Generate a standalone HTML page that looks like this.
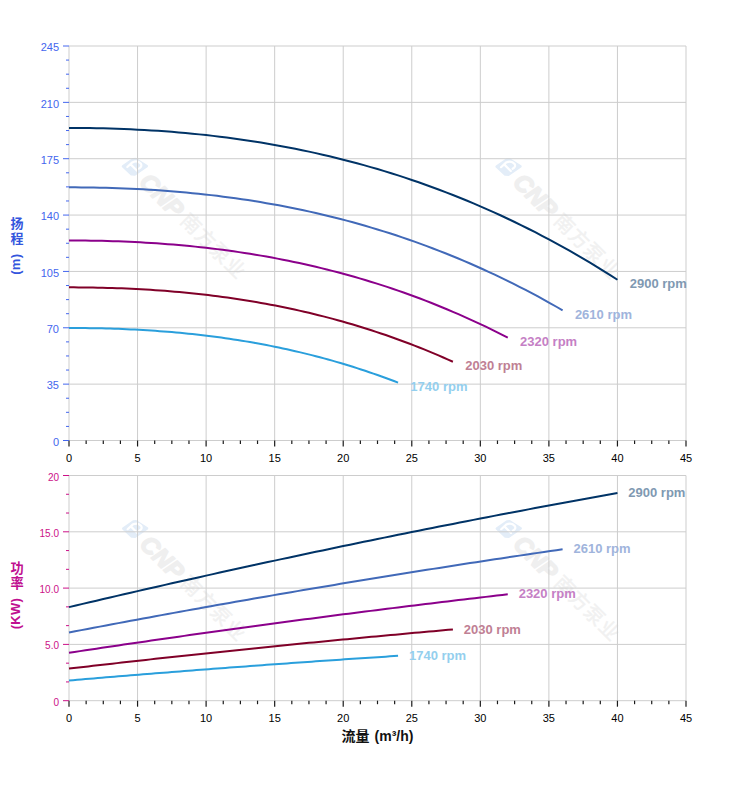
<!DOCTYPE html>
<html><head><meta charset="utf-8"><title>chart</title>
<style>html,body{margin:0;padding:0;background:#fff;}body{width:752px;height:797px;overflow:hidden;font-family:"Liberation Sans",sans-serif;}svg{display:block;}text{font-family:"Liberation Sans","Noto Sans CJK SC",sans-serif;}</style>
</head><body>
<svg width="752" height="797" viewBox="0 0 752 797">
<rect width="752" height="797" fill="#ffffff"/>
<g transform="translate(134.7 166.8)">
<path d="M-11.7 -0.4 L-1.6 -7.5 L1 -7.7 L12 -0.6 L0 7.6 L-3.2 7.5 Z" fill="#e3edf8" stroke="#e3edf8" stroke-width="2.6" stroke-linejoin="round"/>
<path d="M-7.4 0.2 L-2.4 -4.4 Q3 -7 6.2 -3 Q7.8 -0.2 4.2 1.8 M-4.2 -2.6 L2.4 4" fill="none" stroke="#ffffff" stroke-width="2.2" stroke-linecap="round" stroke-linejoin="round"/>
<g transform="rotate(45)">
<text x="14" y="9.2" font-size="24" font-weight="bold" font-style="italic" fill="#efefef" stroke="#efefef" stroke-width="1.5" stroke-linejoin="round">CNP</text>
<text x="70.3" y="7.4" font-size="19.6" letter-spacing="1.2" fill="#f1f1f1" stroke="#f1f1f1" stroke-width="0.43" font-family="&quot;Liberation Sans&quot;,&quot;Noto Sans CJK SC&quot;,sans-serif">南方泵业</text>
</g>
</g>
<g transform="translate(508.4 167)">
<path d="M-11.7 -0.4 L-1.6 -7.5 L1 -7.7 L12 -0.6 L0 7.6 L-3.2 7.5 Z" fill="#e3edf8" stroke="#e3edf8" stroke-width="2.6" stroke-linejoin="round"/>
<path d="M-7.4 0.2 L-2.4 -4.4 Q3 -7 6.2 -3 Q7.8 -0.2 4.2 1.8 M-4.2 -2.6 L2.4 4" fill="none" stroke="#ffffff" stroke-width="2.2" stroke-linecap="round" stroke-linejoin="round"/>
<g transform="rotate(45)">
<text x="14" y="9.2" font-size="24" font-weight="bold" font-style="italic" fill="#efefef" stroke="#efefef" stroke-width="1.5" stroke-linejoin="round">CNP</text>
<text x="70.3" y="7.4" font-size="19.6" letter-spacing="1.2" fill="#f1f1f1" stroke="#f1f1f1" stroke-width="0.43" font-family="&quot;Liberation Sans&quot;,&quot;Noto Sans CJK SC&quot;,sans-serif">南方泵业</text>
</g>
</g>
<g transform="translate(135 529)">
<path d="M-11.7 -0.4 L-1.6 -7.5 L1 -7.7 L12 -0.6 L0 7.6 L-3.2 7.5 Z" fill="#e3edf8" stroke="#e3edf8" stroke-width="2.6" stroke-linejoin="round"/>
<path d="M-7.4 0.2 L-2.4 -4.4 Q3 -7 6.2 -3 Q7.8 -0.2 4.2 1.8 M-4.2 -2.6 L2.4 4" fill="none" stroke="#ffffff" stroke-width="2.2" stroke-linecap="round" stroke-linejoin="round"/>
<g transform="rotate(45)">
<text x="14" y="9.2" font-size="24" font-weight="bold" font-style="italic" fill="#efefef" stroke="#efefef" stroke-width="1.5" stroke-linejoin="round">CNP</text>
<text x="70.3" y="7.4" font-size="19.6" letter-spacing="1.2" fill="#f1f1f1" stroke="#f1f1f1" stroke-width="0.43" font-family="&quot;Liberation Sans&quot;,&quot;Noto Sans CJK SC&quot;,sans-serif">南方泵业</text>
</g>
</g>
<g transform="translate(508.6 529)">
<path d="M-11.7 -0.4 L-1.6 -7.5 L1 -7.7 L12 -0.6 L0 7.6 L-3.2 7.5 Z" fill="#e3edf8" stroke="#e3edf8" stroke-width="2.6" stroke-linejoin="round"/>
<path d="M-7.4 0.2 L-2.4 -4.4 Q3 -7 6.2 -3 Q7.8 -0.2 4.2 1.8 M-4.2 -2.6 L2.4 4" fill="none" stroke="#ffffff" stroke-width="2.2" stroke-linecap="round" stroke-linejoin="round"/>
<g transform="rotate(45)">
<text x="14" y="9.2" font-size="24" font-weight="bold" font-style="italic" fill="#efefef" stroke="#efefef" stroke-width="1.5" stroke-linejoin="round">CNP</text>
<text x="70.3" y="7.4" font-size="19.6" letter-spacing="1.2" fill="#f1f1f1" stroke="#f1f1f1" stroke-width="0.43" font-family="&quot;Liberation Sans&quot;,&quot;Noto Sans CJK SC&quot;,sans-serif">南方泵业</text>
</g>
</g>
<g stroke="#cdcdcd" stroke-width="1" fill="none">
<line x1="69" y1="46" x2="69" y2="440.5"/>
<line x1="137.56" y1="46" x2="137.56" y2="440.5"/>
<line x1="206.11" y1="46" x2="206.11" y2="440.5"/>
<line x1="274.67" y1="46" x2="274.67" y2="440.5"/>
<line x1="343.22" y1="46" x2="343.22" y2="440.5"/>
<line x1="411.78" y1="46" x2="411.78" y2="440.5"/>
<line x1="480.33" y1="46" x2="480.33" y2="440.5"/>
<line x1="548.89" y1="46" x2="548.89" y2="440.5"/>
<line x1="617.44" y1="46" x2="617.44" y2="440.5"/>
<line x1="686" y1="46" x2="686" y2="440.5"/>
<line x1="69" y1="46" x2="686" y2="46"/>
<line x1="69" y1="102.36" x2="686" y2="102.36"/>
<line x1="69" y1="158.71" x2="686" y2="158.71"/>
<line x1="69" y1="215.07" x2="686" y2="215.07"/>
<line x1="69" y1="271.43" x2="686" y2="271.43"/>
<line x1="69" y1="327.79" x2="686" y2="327.79"/>
<line x1="69" y1="384.14" x2="686" y2="384.14"/>
<line x1="69" y1="440.5" x2="686" y2="440.5"/>
</g>
<g stroke="#cdcdcd" stroke-width="1" fill="none">
<line x1="69" y1="475.5" x2="69" y2="700.7"/>
<line x1="137.56" y1="475.5" x2="137.56" y2="700.7"/>
<line x1="206.11" y1="475.5" x2="206.11" y2="700.7"/>
<line x1="274.67" y1="475.5" x2="274.67" y2="700.7"/>
<line x1="343.22" y1="475.5" x2="343.22" y2="700.7"/>
<line x1="411.78" y1="475.5" x2="411.78" y2="700.7"/>
<line x1="480.33" y1="475.5" x2="480.33" y2="700.7"/>
<line x1="548.89" y1="475.5" x2="548.89" y2="700.7"/>
<line x1="617.44" y1="475.5" x2="617.44" y2="700.7"/>
<line x1="686" y1="475.5" x2="686" y2="700.7"/>
<line x1="69" y1="475.5" x2="686" y2="475.5"/>
<line x1="69" y1="531.8" x2="686" y2="531.8"/>
<line x1="69" y1="588.1" x2="686" y2="588.1"/>
<line x1="69" y1="644.4" x2="686" y2="644.4"/>
<line x1="69" y1="700.7" x2="686" y2="700.7"/>
</g>
<g stroke="#1a1a1a" stroke-width="1.2">
<line x1="69" y1="440.5" x2="69" y2="446.5"/>
<line x1="86.14" y1="440.5" x2="86.14" y2="444"/>
<line x1="103.28" y1="440.5" x2="103.28" y2="444"/>
<line x1="120.42" y1="440.5" x2="120.42" y2="444"/>
<line x1="137.56" y1="440.5" x2="137.56" y2="446.5"/>
<line x1="154.69" y1="440.5" x2="154.69" y2="444"/>
<line x1="171.83" y1="440.5" x2="171.83" y2="444"/>
<line x1="188.97" y1="440.5" x2="188.97" y2="444"/>
<line x1="206.11" y1="440.5" x2="206.11" y2="446.5"/>
<line x1="223.25" y1="440.5" x2="223.25" y2="444"/>
<line x1="240.39" y1="440.5" x2="240.39" y2="444"/>
<line x1="257.53" y1="440.5" x2="257.53" y2="444"/>
<line x1="274.67" y1="440.5" x2="274.67" y2="446.5"/>
<line x1="291.81" y1="440.5" x2="291.81" y2="444"/>
<line x1="308.94" y1="440.5" x2="308.94" y2="444"/>
<line x1="326.08" y1="440.5" x2="326.08" y2="444"/>
<line x1="343.22" y1="440.5" x2="343.22" y2="446.5"/>
<line x1="360.36" y1="440.5" x2="360.36" y2="444"/>
<line x1="377.5" y1="440.5" x2="377.5" y2="444"/>
<line x1="394.64" y1="440.5" x2="394.64" y2="444"/>
<line x1="411.78" y1="440.5" x2="411.78" y2="446.5"/>
<line x1="428.92" y1="440.5" x2="428.92" y2="444"/>
<line x1="446.06" y1="440.5" x2="446.06" y2="444"/>
<line x1="463.19" y1="440.5" x2="463.19" y2="444"/>
<line x1="480.33" y1="440.5" x2="480.33" y2="446.5"/>
<line x1="497.47" y1="440.5" x2="497.47" y2="444"/>
<line x1="514.61" y1="440.5" x2="514.61" y2="444"/>
<line x1="531.75" y1="440.5" x2="531.75" y2="444"/>
<line x1="548.89" y1="440.5" x2="548.89" y2="446.5"/>
<line x1="566.03" y1="440.5" x2="566.03" y2="444"/>
<line x1="583.17" y1="440.5" x2="583.17" y2="444"/>
<line x1="600.31" y1="440.5" x2="600.31" y2="444"/>
<line x1="617.44" y1="440.5" x2="617.44" y2="446.5"/>
<line x1="634.58" y1="440.5" x2="634.58" y2="444"/>
<line x1="651.72" y1="440.5" x2="651.72" y2="444"/>
<line x1="668.86" y1="440.5" x2="668.86" y2="444"/>
<line x1="686" y1="440.5" x2="686" y2="446.5"/>
</g>
<g font-size="11" fill="#000" text-anchor="middle">
<text x="69" y="462.1">0</text>
<text x="137.56" y="462.1">5</text>
<text x="206.11" y="462.1">10</text>
<text x="274.67" y="462.1">15</text>
<text x="343.22" y="462.1">20</text>
<text x="411.78" y="462.1">25</text>
<text x="480.33" y="462.1">30</text>
<text x="548.89" y="462.1">35</text>
<text x="617.44" y="462.1">40</text>
<text x="686" y="462.1">45</text>
</g>
<g stroke="#1a1a1a" stroke-width="1.2">
<line x1="69" y1="700.7" x2="69" y2="706.7"/>
<line x1="86.14" y1="700.7" x2="86.14" y2="704.2"/>
<line x1="103.28" y1="700.7" x2="103.28" y2="704.2"/>
<line x1="120.42" y1="700.7" x2="120.42" y2="704.2"/>
<line x1="137.56" y1="700.7" x2="137.56" y2="706.7"/>
<line x1="154.69" y1="700.7" x2="154.69" y2="704.2"/>
<line x1="171.83" y1="700.7" x2="171.83" y2="704.2"/>
<line x1="188.97" y1="700.7" x2="188.97" y2="704.2"/>
<line x1="206.11" y1="700.7" x2="206.11" y2="706.7"/>
<line x1="223.25" y1="700.7" x2="223.25" y2="704.2"/>
<line x1="240.39" y1="700.7" x2="240.39" y2="704.2"/>
<line x1="257.53" y1="700.7" x2="257.53" y2="704.2"/>
<line x1="274.67" y1="700.7" x2="274.67" y2="706.7"/>
<line x1="291.81" y1="700.7" x2="291.81" y2="704.2"/>
<line x1="308.94" y1="700.7" x2="308.94" y2="704.2"/>
<line x1="326.08" y1="700.7" x2="326.08" y2="704.2"/>
<line x1="343.22" y1="700.7" x2="343.22" y2="706.7"/>
<line x1="360.36" y1="700.7" x2="360.36" y2="704.2"/>
<line x1="377.5" y1="700.7" x2="377.5" y2="704.2"/>
<line x1="394.64" y1="700.7" x2="394.64" y2="704.2"/>
<line x1="411.78" y1="700.7" x2="411.78" y2="706.7"/>
<line x1="428.92" y1="700.7" x2="428.92" y2="704.2"/>
<line x1="446.06" y1="700.7" x2="446.06" y2="704.2"/>
<line x1="463.19" y1="700.7" x2="463.19" y2="704.2"/>
<line x1="480.33" y1="700.7" x2="480.33" y2="706.7"/>
<line x1="497.47" y1="700.7" x2="497.47" y2="704.2"/>
<line x1="514.61" y1="700.7" x2="514.61" y2="704.2"/>
<line x1="531.75" y1="700.7" x2="531.75" y2="704.2"/>
<line x1="548.89" y1="700.7" x2="548.89" y2="706.7"/>
<line x1="566.03" y1="700.7" x2="566.03" y2="704.2"/>
<line x1="583.17" y1="700.7" x2="583.17" y2="704.2"/>
<line x1="600.31" y1="700.7" x2="600.31" y2="704.2"/>
<line x1="617.44" y1="700.7" x2="617.44" y2="706.7"/>
<line x1="634.58" y1="700.7" x2="634.58" y2="704.2"/>
<line x1="651.72" y1="700.7" x2="651.72" y2="704.2"/>
<line x1="668.86" y1="700.7" x2="668.86" y2="704.2"/>
<line x1="686" y1="700.7" x2="686" y2="706.7"/>
</g>
<g font-size="11" fill="#000" text-anchor="middle">
<text x="69" y="722.3">0</text>
<text x="137.56" y="722.3">5</text>
<text x="206.11" y="722.3">10</text>
<text x="274.67" y="722.3">15</text>
<text x="343.22" y="722.3">20</text>
<text x="411.78" y="722.3">25</text>
<text x="480.33" y="722.3">30</text>
<text x="548.89" y="722.3">35</text>
<text x="617.44" y="722.3">40</text>
<text x="686" y="722.3">45</text>
</g>
<g stroke="#4466ee" stroke-width="1">
<line x1="63" y1="46" x2="69" y2="46"/>
<line x1="66" y1="60.09" x2="69" y2="60.09"/>
<line x1="66" y1="74.18" x2="69" y2="74.18"/>
<line x1="66" y1="88.27" x2="69" y2="88.27"/>
<line x1="63" y1="102.36" x2="69" y2="102.36"/>
<line x1="66" y1="116.45" x2="69" y2="116.45"/>
<line x1="66" y1="130.54" x2="69" y2="130.54"/>
<line x1="66" y1="144.62" x2="69" y2="144.62"/>
<line x1="63" y1="158.71" x2="69" y2="158.71"/>
<line x1="66" y1="172.8" x2="69" y2="172.8"/>
<line x1="66" y1="186.89" x2="69" y2="186.89"/>
<line x1="66" y1="200.98" x2="69" y2="200.98"/>
<line x1="63" y1="215.07" x2="69" y2="215.07"/>
<line x1="66" y1="229.16" x2="69" y2="229.16"/>
<line x1="66" y1="243.25" x2="69" y2="243.25"/>
<line x1="66" y1="257.34" x2="69" y2="257.34"/>
<line x1="63" y1="271.43" x2="69" y2="271.43"/>
<line x1="66" y1="285.52" x2="69" y2="285.52"/>
<line x1="66" y1="299.61" x2="69" y2="299.61"/>
<line x1="66" y1="313.7" x2="69" y2="313.7"/>
<line x1="63" y1="327.79" x2="69" y2="327.79"/>
<line x1="66" y1="341.88" x2="69" y2="341.88"/>
<line x1="66" y1="355.96" x2="69" y2="355.96"/>
<line x1="66" y1="370.05" x2="69" y2="370.05"/>
<line x1="63" y1="384.14" x2="69" y2="384.14"/>
<line x1="66" y1="398.23" x2="69" y2="398.23"/>
<line x1="66" y1="412.32" x2="69" y2="412.32"/>
<line x1="66" y1="426.41" x2="69" y2="426.41"/>
<line x1="63" y1="440.5" x2="69" y2="440.5"/>
</g>
<g font-size="11" fill="#4466ee" text-anchor="end">
<text x="59" y="51.2">245</text>
<text x="59" y="107.56">210</text>
<text x="59" y="163.91">175</text>
<text x="59" y="220.27">140</text>
<text x="59" y="276.63">105</text>
<text x="59" y="332.99">70</text>
<text x="59" y="389.34">35</text>
<text x="59" y="445.7">0</text>
</g>
<g stroke="#cc1188" stroke-width="1">
<line x1="63" y1="475.5" x2="69" y2="475.5"/>
<line x1="66" y1="494.27" x2="69" y2="494.27"/>
<line x1="66" y1="513.03" x2="69" y2="513.03"/>
<line x1="63" y1="531.8" x2="69" y2="531.8"/>
<line x1="66" y1="550.57" x2="69" y2="550.57"/>
<line x1="66" y1="569.33" x2="69" y2="569.33"/>
<line x1="63" y1="588.1" x2="69" y2="588.1"/>
<line x1="66" y1="606.87" x2="69" y2="606.87"/>
<line x1="66" y1="625.63" x2="69" y2="625.63"/>
<line x1="63" y1="644.4" x2="69" y2="644.4"/>
<line x1="66" y1="663.17" x2="69" y2="663.17"/>
<line x1="66" y1="681.93" x2="69" y2="681.93"/>
<line x1="63" y1="700.7" x2="69" y2="700.7"/>
</g>
<g font-size="10" fill="#cc1188" text-anchor="end">
<text x="59" y="480.5">20</text>
<text x="59" y="536.8">15.0</text>
<text x="59" y="593.1">10.0</text>
<text x="59" y="649.4">5.0</text>
<text x="59" y="705.7">0</text>
</g>
<path d="M69 127.96 L75.86 127.98 L82.71 128.02 L89.57 128.11 L96.42 128.22 L103.28 128.37 L110.13 128.55 L116.99 128.77 L123.84 129.03 L130.7 129.32 L137.56 129.65 L144.41 130.02 L151.27 130.42 L158.12 130.86 L164.98 131.35 L171.83 131.87 L178.69 132.44 L185.54 133.04 L192.4 133.69 L199.26 134.38 L206.11 135.11 L212.97 135.88 L219.82 136.7 L226.68 137.57 L233.53 138.48 L240.39 139.43 L247.24 140.44 L254.1 141.49 L260.96 142.58 L267.81 143.73 L274.67 144.92 L281.52 146.17 L288.38 147.46 L295.23 148.8 L302.09 150.2 L308.94 151.64 L315.8 153.14 L322.66 154.7 L329.51 156.3 L336.37 157.96 L343.22 159.67 L350.08 161.44 L356.93 163.27 L363.79 165.15 L370.64 167.09 L377.5 169.08 L384.36 171.14 L391.21 173.25 L398.07 175.42 L404.92 177.66 L411.78 179.95 L418.63 182.3 L425.49 184.72 L432.34 187.2 L439.2 189.74 L446.06 192.34 L452.91 195.01 L459.77 197.74 L466.62 200.54 L473.48 203.4 L480.33 206.33 L487.19 209.33 L494.04 212.39 L500.9 215.52 L507.76 218.73 L514.61 222 L521.47 225.34 L528.32 228.75 L535.18 232.23 L542.03 235.78 L548.89 239.41 L555.74 243.1 L562.6 246.87 L569.46 250.72 L576.31 254.64 L583.17 258.63 L590.02 262.71 L596.88 266.85 L603.73 271.08 L610.59 275.38 L617.44 279.76" fill="none" stroke="#003366" stroke-width="2" stroke-linejoin="round"/>
<text x="629.74" y="288.16" font-size="13" font-weight="bold" fill="#8099b2">2900 rpm</text>
<path d="M69 607.13 L75.86 605.51 L82.71 603.89 L89.57 602.28 L96.42 600.67 L103.28 599.07 L110.13 597.47 L116.99 595.88 L123.84 594.29 L130.7 592.71 L137.56 591.13 L144.41 589.56 L151.27 587.99 L158.12 586.43 L164.98 584.87 L171.83 583.32 L178.69 581.77 L185.54 580.23 L192.4 578.69 L199.26 577.16 L206.11 575.63 L212.97 574.11 L219.82 572.59 L226.68 571.07 L233.53 569.57 L240.39 568.06 L247.24 566.56 L254.1 565.07 L260.96 563.58 L267.81 562.1 L274.67 560.62 L281.52 559.14 L288.38 557.68 L295.23 556.21 L302.09 554.75 L308.94 553.3 L315.8 551.85 L322.66 550.4 L329.51 548.96 L336.37 547.53 L343.22 546.1 L350.08 544.68 L356.93 543.26 L363.79 541.84 L370.64 540.43 L377.5 539.03 L384.36 537.63 L391.21 536.23 L398.07 534.84 L404.92 533.45 L411.78 532.07 L418.63 530.7 L425.49 529.33 L432.34 527.96 L439.2 526.6 L446.06 525.25 L452.91 523.9 L459.77 522.55 L466.62 521.21 L473.48 519.87 L480.33 518.54 L487.19 517.22 L494.04 515.89 L500.9 514.58 L507.76 513.27 L514.61 511.96 L521.47 510.66 L528.32 509.36 L535.18 508.07 L542.03 506.78 L548.89 505.5 L555.74 504.22 L562.6 502.95 L569.46 501.68 L576.31 500.42 L583.17 499.17 L590.02 497.91 L596.88 496.67 L603.73 495.42 L610.59 494.19 L617.44 492.95" fill="none" stroke="#003366" stroke-width="2" stroke-linejoin="round"/>
<text x="628.34" y="497.05" font-size="13" font-weight="bold" fill="#8099b2">2900 rpm</text>
<path d="M69 187.34 L75.17 187.36 L81.34 187.39 L87.51 187.46 L93.68 187.55 L99.85 187.67 L106.02 187.82 L112.19 188 L118.36 188.21 L124.53 188.44 L130.7 188.71 L136.87 189.01 L143.04 189.34 L149.21 189.7 L155.38 190.09 L161.55 190.51 L167.72 190.97 L173.89 191.46 L180.06 191.98 L186.23 192.54 L192.4 193.13 L198.57 193.76 L204.74 194.43 L210.91 195.13 L217.08 195.86 L223.25 196.64 L229.42 197.45 L235.59 198.3 L241.76 199.19 L247.93 200.11 L254.1 201.08 L260.27 202.09 L266.44 203.14 L272.61 204.23 L278.78 205.35 L284.95 206.53 L291.12 207.74 L297.29 209 L303.46 210.3 L309.63 211.64 L315.8 213.03 L321.97 214.46 L328.14 215.94 L334.31 217.47 L340.48 219.04 L346.65 220.65 L352.82 222.32 L358.99 224.03 L365.16 225.79 L371.33 227.6 L377.5 229.45 L383.67 231.36 L389.84 233.32 L396.01 235.32 L402.18 237.38 L408.35 239.49 L414.52 241.65 L420.69 243.86 L426.86 246.13 L433.03 248.45 L439.2 250.82 L445.37 253.25 L451.54 255.73 L457.71 258.27 L463.88 260.86 L470.05 263.51 L476.22 266.22 L482.39 268.98 L488.56 271.8 L494.73 274.68 L500.9 277.61 L507.07 280.61 L513.24 283.66 L519.41 286.78 L525.58 289.95 L531.75 293.19 L537.92 296.49 L544.09 299.85 L550.26 303.27 L556.43 306.75 L562.6 310.3" fill="none" stroke="#4169b8" stroke-width="2" stroke-linejoin="round"/>
<text x="574.9" y="318.7" font-size="13" font-weight="bold" fill="#a0b4dc">2610 rpm</text>
<path d="M69 632.49 L75.17 631.3 L81.34 630.13 L87.51 628.95 L93.68 627.78 L99.85 626.61 L106.02 625.45 L112.19 624.29 L118.36 623.13 L124.53 621.98 L130.7 620.83 L136.87 619.68 L143.04 618.54 L149.21 617.4 L155.38 616.26 L161.55 615.13 L167.72 614 L173.89 612.88 L180.06 611.76 L186.23 610.64 L192.4 609.52 L198.57 608.41 L204.74 607.31 L210.91 606.2 L217.08 605.1 L223.25 604.01 L229.42 602.91 L235.59 601.83 L241.76 600.74 L247.93 599.66 L254.1 598.58 L260.27 597.51 L266.44 596.44 L272.61 595.37 L278.78 594.3 L284.95 593.24 L291.12 592.19 L297.29 591.13 L303.46 590.08 L309.63 589.04 L315.8 588 L321.97 586.96 L328.14 585.92 L334.31 584.89 L340.48 583.86 L346.65 582.84 L352.82 581.82 L358.99 580.8 L365.16 579.79 L371.33 578.78 L377.5 577.77 L383.67 576.77 L389.84 575.77 L396.01 574.77 L402.18 573.78 L408.35 572.79 L414.52 571.81 L420.69 570.83 L426.86 569.85 L433.03 568.88 L439.2 567.91 L445.37 566.94 L451.54 565.98 L457.71 565.02 L463.88 564.06 L470.05 563.11 L476.22 562.16 L482.39 561.21 L488.56 560.27 L494.73 559.33 L500.9 558.4 L507.07 557.47 L513.24 556.54 L519.41 555.62 L525.58 554.7 L531.75 553.78 L537.92 552.87 L544.09 551.96 L550.26 551.05 L556.43 550.15 L562.6 549.25" fill="none" stroke="#4169b8" stroke-width="2" stroke-linejoin="round"/>
<text x="573.5" y="553.35" font-size="13" font-weight="bold" fill="#a0b4dc">2610 rpm</text>
<path d="M69 240.47 L74.48 240.48 L79.97 240.52 L85.45 240.57 L90.94 240.64 L96.42 240.74 L101.91 240.85 L107.39 240.99 L112.88 241.16 L118.36 241.35 L123.84 241.56 L129.33 241.79 L134.81 242.05 L140.3 242.33 L145.78 242.64 L151.27 242.98 L156.75 243.34 L162.24 243.73 L167.72 244.14 L173.2 244.58 L178.69 245.05 L184.17 245.55 L189.66 246.07 L195.14 246.62 L200.63 247.21 L206.11 247.82 L211.6 248.46 L217.08 249.13 L222.56 249.83 L228.05 250.57 L233.53 251.33 L239.02 252.13 L244.5 252.95 L249.99 253.81 L255.47 254.71 L260.96 255.63 L266.44 256.59 L271.92 257.58 L277.41 258.61 L282.89 259.67 L288.38 260.77 L293.86 261.9 L299.35 263.07 L304.83 264.28 L310.32 265.52 L315.8 266.79 L321.28 268.11 L326.77 269.46 L332.25 270.85 L337.74 272.28 L343.22 273.75 L348.71 275.25 L354.19 276.8 L359.68 278.39 L365.16 280.01 L370.64 281.68 L376.13 283.39 L381.61 285.13 L387.1 286.92 L392.58 288.76 L398.07 290.63 L403.55 292.55 L409.04 294.51 L414.52 296.52 L420 298.56 L425.49 300.66 L430.97 302.79 L436.46 304.98 L441.94 307.21 L447.43 309.48 L452.91 311.8 L458.4 314.17 L463.88 316.58 L469.36 319.04 L474.85 321.55 L480.33 324.11 L485.82 326.71 L491.3 329.37 L496.79 332.07 L502.27 334.82 L507.76 337.62" fill="none" stroke="#8b008b" stroke-width="2" stroke-linejoin="round"/>
<text x="520.06" y="346.02" font-size="13" font-weight="bold" fill="#c580c5">2320 rpm</text>
<path d="M69 652.79 L74.48 651.96 L79.97 651.13 L85.45 650.31 L90.94 649.49 L96.42 648.67 L101.91 647.85 L107.39 647.03 L112.88 646.22 L118.36 645.41 L123.84 644.6 L129.33 643.8 L134.81 642.99 L140.3 642.19 L145.78 641.4 L151.27 640.6 L156.75 639.81 L162.24 639.02 L167.72 638.23 L173.2 637.45 L178.69 636.66 L184.17 635.88 L189.66 635.11 L195.14 634.33 L200.63 633.56 L206.11 632.79 L211.6 632.02 L217.08 631.26 L222.56 630.5 L228.05 629.74 L233.53 628.98 L239.02 628.22 L244.5 627.47 L249.99 626.72 L255.47 625.97 L260.96 625.23 L266.44 624.49 L271.92 623.75 L277.41 623.01 L282.89 622.28 L288.38 621.54 L293.86 620.82 L299.35 620.09 L304.83 619.36 L310.32 618.64 L315.8 617.92 L321.28 617.21 L326.77 616.49 L332.25 615.78 L337.74 615.07 L343.22 614.36 L348.71 613.66 L354.19 612.96 L359.68 612.26 L365.16 611.56 L370.64 610.87 L376.13 610.18 L381.61 609.49 L387.1 608.8 L392.58 608.12 L398.07 607.43 L403.55 606.76 L409.04 606.08 L414.52 605.41 L420 604.73 L425.49 604.06 L430.97 603.4 L436.46 602.73 L441.94 602.07 L447.43 601.41 L452.91 600.76 L458.4 600.1 L463.88 599.45 L469.36 598.8 L474.85 598.16 L480.33 597.51 L485.82 596.87 L491.3 596.23 L496.79 595.6 L502.27 594.96 L507.76 594.33" fill="none" stroke="#8b008b" stroke-width="2" stroke-linejoin="round"/>
<text x="518.66" y="598.43" font-size="13" font-weight="bold" fill="#c580c5">2320 rpm</text>
<path d="M69 287.36 L73.8 287.36 L78.6 287.39 L83.4 287.43 L88.2 287.48 L92.99 287.56 L97.79 287.65 L102.59 287.75 L107.39 287.88 L112.19 288.02 L116.99 288.18 L121.79 288.36 L126.59 288.56 L131.39 288.78 L136.18 289.02 L140.98 289.27 L145.78 289.55 L150.58 289.84 L155.38 290.16 L160.18 290.5 L164.98 290.86 L169.78 291.24 L174.58 291.64 L179.37 292.06 L184.17 292.51 L188.97 292.98 L193.77 293.47 L198.57 293.98 L203.37 294.52 L208.17 295.08 L212.97 295.67 L217.77 296.28 L222.56 296.91 L227.36 297.57 L232.16 298.25 L236.96 298.96 L241.76 299.7 L246.56 300.46 L251.36 301.24 L256.16 302.06 L260.96 302.9 L265.75 303.76 L270.55 304.66 L275.35 305.58 L280.15 306.53 L284.95 307.51 L289.75 308.51 L294.55 309.55 L299.35 310.61 L304.15 311.71 L308.94 312.83 L313.74 313.98 L318.54 315.17 L323.34 316.38 L328.14 317.63 L332.94 318.9 L337.74 320.21 L342.54 321.55 L347.34 322.92 L352.13 324.32 L356.93 325.76 L361.73 327.23 L366.53 328.73 L371.33 330.26 L376.13 331.83 L380.93 333.43 L385.73 335.07 L390.53 336.74 L395.32 338.45 L400.12 340.19 L404.92 341.96 L409.72 343.78 L414.52 345.62 L419.32 347.51 L424.12 349.43 L428.92 351.39 L433.72 353.38 L438.51 355.41 L443.31 357.48 L448.11 359.59 L452.91 361.74" fill="none" stroke="#800028" stroke-width="2" stroke-linejoin="round"/>
<text x="465.21" y="370.14" font-size="13" font-weight="bold" fill="#c08094">2030 rpm</text>
<path d="M69 668.61 L73.8 668.05 L78.6 667.49 L83.4 666.94 L88.2 666.39 L92.99 665.84 L97.79 665.29 L102.59 664.75 L107.39 664.2 L112.19 663.66 L116.99 663.12 L121.79 662.58 L126.59 662.04 L131.39 661.51 L136.18 660.97 L140.98 660.44 L145.78 659.91 L150.58 659.38 L155.38 658.85 L160.18 658.33 L164.98 657.8 L169.78 657.28 L174.58 656.76 L179.37 656.24 L184.17 655.72 L188.97 655.21 L193.77 654.69 L198.57 654.18 L203.37 653.67 L208.17 653.16 L212.97 652.65 L217.77 652.15 L222.56 651.64 L227.36 651.14 L232.16 650.64 L236.96 650.14 L241.76 649.64 L246.56 649.15 L251.36 648.65 L256.16 648.16 L260.96 647.67 L265.75 647.18 L270.55 646.7 L275.35 646.21 L280.15 645.73 L284.95 645.25 L289.75 644.77 L294.55 644.29 L299.35 643.81 L304.15 643.33 L308.94 642.86 L313.74 642.39 L318.54 641.92 L323.34 641.45 L328.14 640.98 L332.94 640.52 L337.74 640.06 L342.54 639.59 L347.34 639.13 L352.13 638.68 L356.93 638.22 L361.73 637.76 L366.53 637.31 L371.33 636.86 L376.13 636.41 L380.93 635.96 L385.73 635.52 L390.53 635.07 L395.32 634.63 L400.12 634.19 L404.92 633.75 L409.72 633.31 L414.52 632.87 L419.32 632.44 L424.12 632 L428.92 631.57 L433.72 631.14 L438.51 630.72 L443.31 630.29 L448.11 629.87 L452.91 629.44" fill="none" stroke="#800028" stroke-width="2" stroke-linejoin="round"/>
<text x="463.81" y="633.54" font-size="13" font-weight="bold" fill="#c08094">2030 rpm</text>
<path d="M69 327.99 L73.11 327.99 L77.23 328.01 L81.34 328.04 L85.45 328.08 L89.57 328.13 L93.68 328.2 L97.79 328.28 L101.91 328.37 L106.02 328.48 L110.13 328.59 L114.25 328.73 L118.36 328.87 L122.47 329.03 L126.59 329.21 L130.7 329.39 L134.81 329.6 L138.93 329.81 L143.04 330.05 L147.15 330.3 L151.27 330.56 L155.38 330.84 L159.49 331.13 L163.61 331.44 L167.72 331.77 L171.83 332.12 L175.95 332.48 L180.06 332.86 L184.17 333.25 L188.29 333.66 L192.4 334.09 L196.51 334.54 L200.63 335.01 L204.74 335.49 L208.85 335.99 L212.97 336.51 L217.08 337.05 L221.19 337.61 L225.31 338.19 L229.42 338.79 L233.53 339.4 L237.65 340.04 L241.76 340.7 L245.87 341.37 L249.99 342.07 L254.1 342.79 L258.21 343.53 L262.33 344.29 L266.44 345.07 L270.55 345.88 L274.67 346.7 L278.78 347.55 L282.89 348.42 L287.01 349.31 L291.12 350.23 L295.23 351.16 L299.35 352.12 L303.46 353.11 L307.57 354.11 L311.69 355.14 L315.8 356.2 L319.91 357.28 L324.03 358.38 L328.14 359.51 L332.25 360.66 L336.37 361.84 L340.48 363.04 L344.59 364.27 L348.71 365.52 L352.82 366.8 L356.93 368.11 L361.05 369.44 L365.16 370.79 L369.27 372.18 L373.39 373.59 L377.5 375.03 L381.61 376.49 L385.73 377.99 L389.84 379.51 L393.95 381.06 L398.07 382.63" fill="none" stroke="#2a9fdc" stroke-width="2" stroke-linejoin="round"/>
<text x="410.37" y="391.03" font-size="13" font-weight="bold" fill="#94cfee">1740 rpm</text>
<path d="M69 680.49 L73.11 680.14 L77.23 679.79 L81.34 679.44 L85.45 679.09 L89.57 678.75 L93.68 678.4 L97.79 678.06 L101.91 677.72 L106.02 677.37 L110.13 677.03 L114.25 676.69 L118.36 676.36 L122.47 676.02 L126.59 675.68 L130.7 675.35 L134.81 675.01 L138.93 674.68 L143.04 674.35 L147.15 674.01 L151.27 673.68 L155.38 673.36 L159.49 673.03 L163.61 672.7 L167.72 672.38 L171.83 672.05 L175.95 671.73 L180.06 671.4 L184.17 671.08 L188.29 670.76 L192.4 670.44 L196.51 670.12 L200.63 669.81 L204.74 669.49 L208.85 669.18 L212.97 668.86 L217.08 668.55 L221.19 668.24 L225.31 667.93 L229.42 667.62 L233.53 667.31 L237.65 667 L241.76 666.69 L245.87 666.39 L249.99 666.08 L254.1 665.78 L258.21 665.48 L262.33 665.17 L266.44 664.87 L270.55 664.58 L274.67 664.28 L278.78 663.98 L282.89 663.68 L287.01 663.39 L291.12 663.09 L295.23 662.8 L299.35 662.51 L303.46 662.22 L307.57 661.93 L311.69 661.64 L315.8 661.35 L319.91 661.07 L324.03 660.78 L328.14 660.5 L332.25 660.21 L336.37 659.93 L340.48 659.65 L344.59 659.37 L348.71 659.09 L352.82 658.81 L356.93 658.54 L361.05 658.26 L365.16 657.99 L369.27 657.71 L373.39 657.44 L377.5 657.17 L381.61 656.9 L385.73 656.63 L389.84 656.36 L393.95 656.09 L398.07 655.83" fill="none" stroke="#2a9fdc" stroke-width="2" stroke-linejoin="round"/>
<text x="408.97" y="659.93" font-size="13" font-weight="bold" fill="#94cfee">1740 rpm</text>
<g fill="#3355dd" font-size="13" font-weight="bold" font-family="&quot;Liberation Sans&quot;,&quot;Noto Sans CJK SC&quot;,sans-serif"><text x="10.5" y="227.51">扬</text><text x="10.5" y="243.11">程</text></g>
<text transform="translate(20 264.2) rotate(-90)" text-anchor="middle" font-size="13" font-weight="bold" letter-spacing="0.3" fill="#3355dd">(m)</text>
<g fill="#c01090" font-size="13.2" font-weight="bold" font-family="&quot;Liberation Serif&quot;,&quot;Noto Serif CJK SC&quot;,serif"><text x="10.5" y="573.44">功</text><text x="10.5" y="587.94">率</text></g>
<text transform="translate(20 613.5) rotate(-90)" text-anchor="middle" font-size="13" font-weight="bold" letter-spacing="0.3" fill="#c01090">(KW)</text>
<text x="341.6" y="741.4" font-size="14" font-weight="bold" fill="#111" font-family="&quot;Liberation Sans&quot;,&quot;Noto Sans CJK SC&quot;,sans-serif">流量</text>
<text x="374.6" y="740.6" font-size="14" font-weight="bold" fill="#111">(m³/h)</text>
</svg></body></html>
